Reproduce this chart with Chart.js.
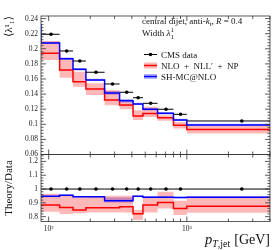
<!DOCTYPE html>
<html>
<head>
<meta charset="utf-8">
<script src="https://cdn.jsdelivr.net/npm/chart.js@4.4.1/dist/chart.umd.min.js"></script>
<style>
  html, body { margin: 0; padding: 0; background: #fff; }
</style>
</head>
<body>
<canvas id="c" width="280" height="250"></canvas>
<script>
// pT,jet bin edges [GeV]
const binEdges = [88, 120, 150, 186, 254, 326, 408, 481, 614, 800, 1000, 4000];

// <lambda^1_1> per bin
const cmsData = [0.2192, 0.1971, 0.1838, 0.1689, 0.1534, 0.1424, 0.1352, 0.1278, 0.1199, 0.1132, 0.1044];

const nllNp     = [0.1940, 0.1719, 0.1564, 0.1468, 0.1322, 0.1256, 0.1110, 0.1143, 0.1085, 0.0988, 0.0931];
const nllNpLow  = [0.1851, 0.1617, 0.1498, 0.1388, 0.1253, 0.1199, 0.1057, 0.1098, 0.1046, 0.0944, 0.0878];
const nllNpHigh = [0.2103, 0.1861, 0.1697, 0.1543, 0.1452, 0.1299, 0.1187, 0.1233, 0.1121, 0.1032, 0.0979];

const shMcNlo     = [0.2077, 0.1869, 0.1728, 0.1587, 0.1415, 0.1313, 0.1269, 0.1199, 0.1146, 0.1057, 0.0991];
const shMcNloLow  = [0.2062, 0.1854, 0.1713, 0.1572, 0.1390, 0.1290, 0.1254, 0.1184, 0.1131, 0.1042, 0.0976];
const shMcNloHigh = [0.2092, 0.1884, 0.1743, 0.1602, 0.1440, 0.1336, 0.1284, 0.1214, 0.1161, 0.1072, 0.1006];
// SH-MC@NLO bin below the plotted range, only its step edge shows
const shPrevEdge = 65;
const shPrevValue = 0.2315;

// theory / data
const ratioNll     = [0.885, 0.867, 0.849, 0.864, 0.865, 0.872, 0.821, 0.885, 0.903, 0.860, 0.875];
const ratioNllLow  = [0.835, 0.819, 0.825, 0.831, 0.831, 0.831, 0.775, 0.831, 0.860, 0.812, 0.828];
const ratioNllHigh = [0.965, 0.951, 0.939, 0.944, 0.951, 0.951, 0.848, 0.944, 0.981, 0.915, 0.944];
const ratioSh      = [0.947, 0.955, 0.944, 0.944, 0.915, 0.915, 0.948, 0.941, 0.941, 0.939, 0.941];
const ratioShLow   = [0.941, 0.949, 0.938, 0.938, 0.903, 0.903, 0.942, 0.935, 0.935, 0.933, 0.935];
const ratioShHigh  = [0.953, 0.961, 0.950, 0.950, 0.938, 0.938, 0.954, 0.947, 0.947, 0.945, 0.947];

const upperTicks = [0.06, 0.08, 0.1, 0.12, 0.14, 0.16, 0.18, 0.2, 0.22, 0.24];
const ratioTicks = [0.8, 0.9, 1, 1.1, 1.2];
const xTicks = [100, 1000];
const xTickLabels = ['10\u00b2', '10\u00b3'];

const RED = '#ff0000';
const RED_BAND = 'rgba(255,0,0,0.28)';
const BLUE = '#0000ff';
const BLUE_BAND = 'rgba(0,0,255,0.3)';

const SERIF = "'Liberation Serif', 'DejaVu Serif', serif";
const F = s => `${s}px ${SERIF}`;
const FI = s => `italic ${s}px ${SERIF}`;

// histogram step: value holds from left edge to next edge
function steps(vals) {
  const pts = vals.map((v, i) => ({ x: binEdges[i], y: v }));
  pts.push({ x: binEdges[vals.length], y: vals[vals.length - 1] });
  return pts;
}
// horizontal error bars spanning each bin
function bars(vals) {
  const pts = [];
  vals.forEach((v, i) => {
    pts.push({ x: binEdges[i], y: v }, { x: binEdges[i + 1], y: v }, { x: binEdges[i + 1], y: null });
  });
  return pts;
}
function centres(vals) {
  return vals.map((v, i) => ({ x: (binEdges[i] + binEdges[i + 1]) / 2, y: v }));
}

function panel(axis, data, nll, nllLo, nllHi, sh, shLo, shHi, shPrev) {
  const shLine = steps(sh);
  if (shPrev) shLine.unshift({ x: shPrevEdge, y: shPrevValue });
  const base = { yAxisID: axis, pointRadius: 0, borderWidth: 0 };
  return [
    { ...base, data: centres(data), showLine: false, pointRadius: 1.8, pointBackgroundColor: '#000', pointBorderWidth: 0, order: 0 },
    { ...base, data: bars(data), borderColor: '#000', borderWidth: 1, spanGaps: false, order: 1 },
    { ...base, data: shLine, borderColor: BLUE, borderWidth: 1.5, stepped: true, order: 2 },
    { ...base, data: steps(nll), borderColor: RED, borderWidth: 1.5, stepped: true, order: 3 },
    { ...base, data: steps(nllLo), stepped: true, order: 4 },
    { ...base, data: steps(nllHi), stepped: true, fill: '-1', backgroundColor: RED_BAND, order: 4 },
    { ...base, data: steps(shLo), stepped: true, order: 5 },
    { ...base, data: steps(shHi), stepped: true, fill: '-1', backgroundColor: BLUE_BAND, order: 5 }
  ];
}

const ones = cmsData.map(() => 1);
const datasets = [
  ...panel('y', cmsData, nllNp, nllNpLow, nllNpHigh, shMcNlo, shMcNloLow, shMcNloHigh, true),
  ...panel('yr', ones, ratioNll, ratioNllLow, ratioNllHigh, ratioSh, ratioShLow, ratioShHigh, false)
];

// frame + inward ticks on all four sides of both panels
const frameTicks = {
  id: 'frameTicks',
  afterDatasetsDraw(chart) {
    const { ctx, scales } = chart;
    const x = scales.x;
    ctx.save();
    ctx.strokeStyle = '#333';
    ctx.lineWidth = 0.8;
    [[scales.y, 0.02, 0.004], [scales.yr, 0.1, 0.02]].forEach(([s, major, minor]) => {
      ctx.strokeRect(x.left, s.top, x.right - x.left, s.bottom - s.top);
      ctx.beginPath();
      const n0 = Math.ceil(s.min / minor - 1e-6), n1 = Math.floor(s.max / minor + 1e-6);
      for (let k = n0; k <= n1; k++) {
        const v = k * minor;
        const isMajor = Math.abs(v / major - Math.round(v / major)) < 1e-6;
        const len = isMajor ? 5 : 2.5;
        const py = s.getPixelForValue(v);
        ctx.moveTo(x.left, py); ctx.lineTo(x.left + len, py);
        ctx.moveTo(x.right, py); ctx.lineTo(x.right - len, py);
      }
      for (let d = 100; d <= 1000; d *= 10) {
        for (let m = 1; m <= 9; m++) {
          const v = m * d;
          if (v < x.min || v > x.max) continue;
          const px = x.getPixelForValue(v);
          const len = m === 1 ? 5 : 3;
          ctx.moveTo(px, s.top); ctx.lineTo(px, s.top + len);
          ctx.moveTo(px, s.bottom); ctx.lineTo(px, s.bottom - len);
        }
      }
      ctx.stroke();
    });
    ctx.restore();
  }
};

function rich(ctx, x, y, parts) {
  for (const p of parts) {
    ctx.font = p.font;
    ctx.fillText(p.t, x, y + (p.dy || 0));
    x += ctx.measureText(p.t).width + (p.gap || 0);
  }
  return x;
}
function richWidth(ctx, parts) {
  let w = 0;
  for (const p of parts) { ctx.font = p.font; w += ctx.measureText(p.t).width + (p.gap || 0); }
  return w;
}

const texts = {
  id: 'texts',
  afterDraw(chart) {
    const { ctx, scales } = chart;
    ctx.save();
    ctx.fillStyle = '#111';
    ctx.textBaseline = 'alphabetic';
    ctx.textAlign = 'left';

    rich(ctx, 142, 24, [
      { t: 'central dijet, anti-', font: F(9) },
      { t: 'k', font: FI(9) },
      { t: 't', font: FI(6.5), dy: 2 },
      { t: ', ', font: F(9) },
      { t: 'R', font: FI(9) },
      { t: ' = 0.4', font: F(9) }
    ]);
    let xx = rich(ctx, 142, 36, [{ t: 'Width ', font: F(9) }, { t: '\u03bb', font: FI(9) }]);
    ctx.font = F(6.5);
    ctx.fillText('1', xx + 0.5, 32);
    ctx.fillText('1', xx + 0.5, 38.5);

    // legend
    const sx = 144, ex = 157, tx = 161;
    let y = 54.5;
    ctx.strokeStyle = '#000'; ctx.lineWidth = 1;
    ctx.beginPath(); ctx.moveTo(sx, y); ctx.lineTo(ex, y); ctx.stroke();
    ctx.beginPath(); ctx.arc((sx + ex) / 2, y, 1.8, 0, Math.PI * 2); ctx.fillStyle = '#000'; ctx.fill();
    ctx.fillStyle = '#111';
    ctx.font = F(9); ctx.fillText('CMS data', tx, y + 3);

    y = 65.5;
    ctx.fillStyle = RED_BAND; ctx.fillRect(sx, y - 3, ex - sx, 6);
    ctx.strokeStyle = RED; ctx.lineWidth = 1.5;
    ctx.beginPath(); ctx.moveTo(sx, y); ctx.lineTo(ex, y); ctx.stroke();
    ctx.fillStyle = '#111';
    ctx.font = F(9); ctx.fillText('NLO\u2002+\u2002NLL\u2032\u2002+\u2002NP', tx, y + 3);

    y = 76.5;
    ctx.fillStyle = BLUE_BAND; ctx.fillRect(sx, y - 2.5, ex - sx, 5);
    ctx.strokeStyle = BLUE; ctx.lineWidth = 1.5;
    ctx.beginPath(); ctx.moveTo(sx, y); ctx.lineTo(ex, y); ctx.stroke();
    ctx.fillStyle = '#111';
    ctx.font = F(9); ctx.fillText('SH-MC@NLO', tx, y + 3);

    // x axis title, right aligned to the frame
    const parts = [
      { t: 'p', font: FI(14.5) },
      { t: 'T', font: FI(10), dy: 3 },
      { t: ',jet', font: F(10), dy: 3, gap: 4 },
      { t: '[GeV]', font: F(14) }
    ];
    rich(ctx, scales.x.right - richWidth(ctx, parts), 243.5, parts);
    ctx.restore();
  }
};

Chart.defaults.font.family = SERIF;
Chart.defaults.color = '#222';

new Chart(document.getElementById('c'), {
  type: 'line',
  data: { datasets },
  options: {
    responsive: false,
    animation: false,
    devicePixelRatio: 1,
    layout: { padding: { top: 16, right: 10, left: 0, bottom: 0 } },
    plugins: { legend: { display: false }, tooltip: { enabled: false } },
    scales: {
      x: {
        type: 'logarithmic',
        min: 88,
        max: 4000,
        grid: { display: false, drawTicks: false },
        border: { display: false },
        afterBuildTicks: s => { s.ticks = xTicks.map(v => ({ value: v, major: true })); },
        afterFit: s => { s.height = 28.5; },
        ticks: {
          autoSkip: false, maxRotation: 0, padding: 3,
          font: { size: 7.5 },
          callback: (v, i) => xTickLabels[i]
        }
      },
      y: {
        type: 'linear',
        position: 'left',
        stack: 'panels',
        stackWeight: 138.5,
        weight: 1,
        min: 0.06,
        max: 0.2434,
        grid: { display: false, drawTicks: false },
        border: { display: false },
        afterBuildTicks: s => { s.ticks = upperTicks.map(v => ({ value: v })); },
        afterFit: s => { s.width = 41; },
        ticks: { autoSkip: false, padding: 3, font: { size: 7.5 }, callback: v => String(+v.toFixed(2)) },
        title: { display: true, text: '\u27e8\u03bb\u00b9\u2081\u27e9', align: 'end', font: { size: 11 }, padding: { top: 3, bottom: 0 }, color: '#111' }
      },
      yr: {
        type: 'linear',
        position: 'left',
        stack: 'panels',
        stackWeight: 67,
        weight: 0,
        min: 0.765,
        max: 1.25,
        grid: { display: false, drawTicks: false },
        border: { display: false },
        afterBuildTicks: s => { s.ticks = ratioTicks.map(v => ({ value: v })); },
        afterFit: s => { s.width = 41; },
        ticks: { autoSkip: false, padding: 3, font: { size: 7.5 }, callback: v => String(+v.toFixed(1)) },
        title: { display: true, text: 'Theory/Data', font: { size: 11 }, padding: { top: 3, bottom: 0 }, color: '#111' }
      }
    }
  },
  plugins: [frameTicks, texts]
});
</script>
</body>
</html>
